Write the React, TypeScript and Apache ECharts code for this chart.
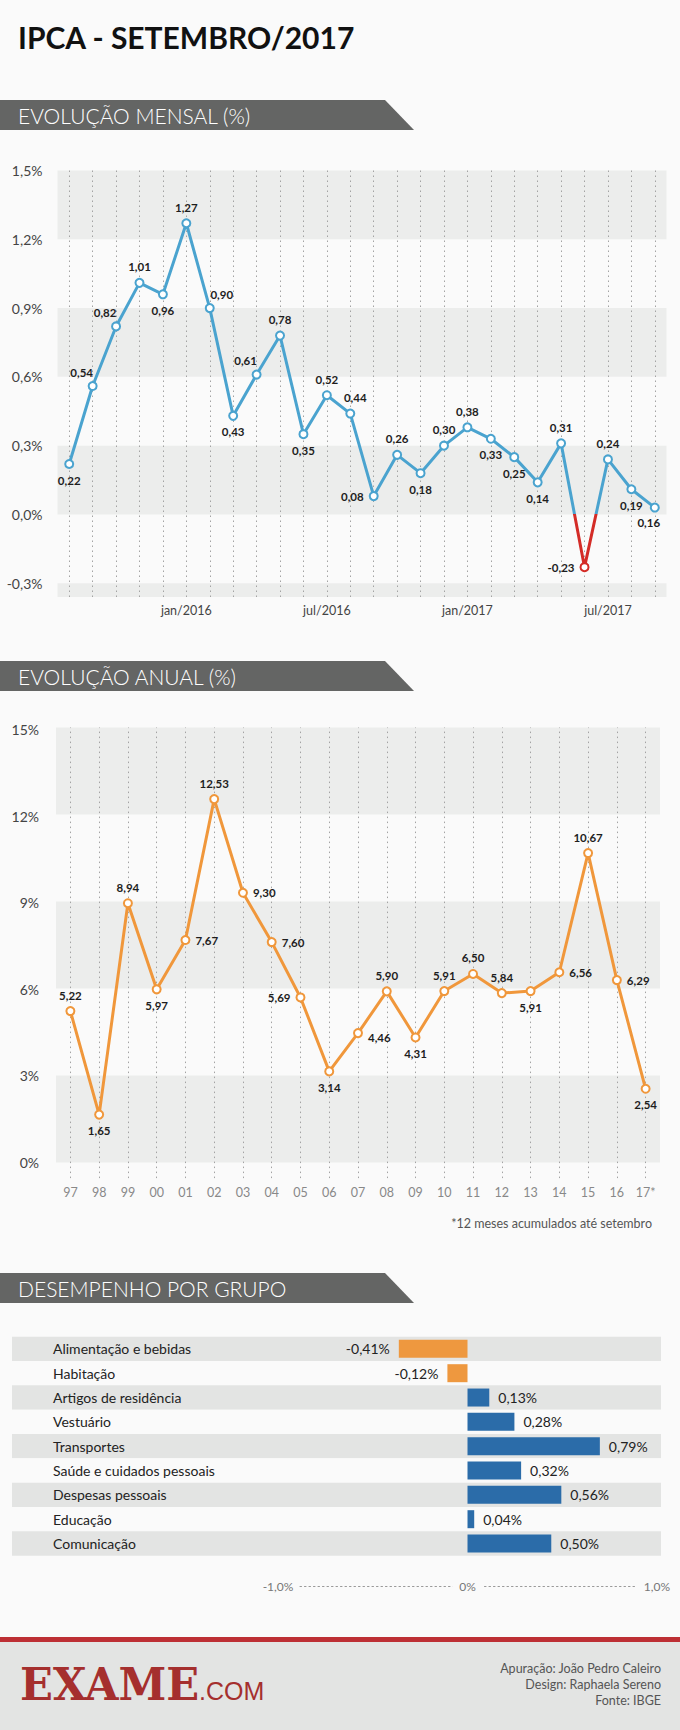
import React, { useEffect, useRef } from 'react';
import * as echarts from 'echarts';

// ---------- DATA ----------
const monthCategories = [
  'ago/2015', 'set/2015', 'out/2015', 'nov/2015', 'dez/2015',
  'jan/2016', 'fev/2016', 'mar/2016', 'abr/2016', 'mai/2016', 'jun/2016',
  'jul/2016', 'ago/2016', 'set/2016', 'out/2016', 'nov/2016', 'dez/2016',
  'jan/2017', 'fev/2017', 'mar/2017', 'abr/2017', 'mai/2017', 'jun/2017',
  'jul/2017', 'ago/2017', 'set/2017',
];
// values printed next to each point
const monthlyValues = [
  0.22, 0.54, 0.82, 1.01, 0.96, 1.27, 0.9, 0.43, 0.61, 0.78, 0.35, 0.52, 0.44,
  0.08, 0.26, 0.18, 0.3, 0.38, 0.33, 0.25, 0.14, 0.31, -0.23, 0.24, 0.19, 0.16,
];
// heights at which the points are drawn in the picture
const monthlyPlotted = [
  0.22, 0.56, 0.82, 1.01, 0.96, 1.27, 0.9, 0.43, 0.61, 0.78, 0.35, 0.52, 0.44,
  0.08, 0.26, 0.18, 0.3, 0.38, 0.33, 0.25, 0.14, 0.31, -0.23, 0.24, 0.11, 0.03,
];
const monthlyTicks = [-0.3, 0, 0.3, 0.6, 0.9, 1.2, 1.5];
const monthlyLabelSides = [
  'bottom', 'topLeft', 'topLeft', 'top', 'bottom', 'top', 'topRight', 'bottom',
  'topLeft', 'top', 'bottom', 'top', 'topRightSmall', 'left', 'top', 'bottom',
  'top', 'top', 'bottom', 'bottom', 'bottom', 'top', 'left', 'top', 'bottom',
  'bottomLeft',
];

const yearCategories = [
  '97', '98', '99', '00', '01', '02', '03', '04', '05', '06', '07', '08', '09',
  '10', '11', '12', '13', '14', '15', '16', '17*',
];
const annualValues = [
  5.22, 1.65, 8.94, 5.97, 7.67, 12.53, 9.3, 7.6, 5.69, 3.14, 4.46, 5.9, 4.31,
  5.91, 6.5, 5.84, 5.91, 6.56, 10.67, 6.29, 2.54,
];
const annualTicks = [0, 3, 6, 9, 12, 15];
const annualLabelSides = [
  'top', 'bottom', 'top', 'bottom', 'right', 'top', 'right', 'right', 'left',
  'bottom', 'rightLow', 'top', 'bottom', 'top', 'top', 'top', 'bottom', 'right',
  'top', 'right', 'bottom',
];

const groupNames = [
  'Alimentação e bebidas', 'Habitação', 'Artigos de residência', 'Vestuário',
  'Transportes', 'Saúde e cuidados pessoais', 'Despesas pessoais', 'Educação',
  'Comunicação',
];
const groupValues = [-0.41, -0.12, 0.13, 0.28, 0.79, 0.32, 0.56, 0.04, 0.5];
const groupAxisTicks = [-1, 0, 1];

// ---------- STYLE ----------
const BG = '#fafafa';
const BAND = '#ecedec';
const BANNER = '#646564';
const BLUE = '#4aa3cf';
const RED = '#d42c27';
const ORANGE = '#f0973b';
const BAR_NEG = '#ee983f';
const BAR_POS = '#2b6ca9';
const FONT = 'Lato';

const clean = (v: number) => (Math.abs(v) < 1e-9 ? 0 : v);
const comma = (v: number, d: number) => clean(v).toFixed(d).replace('.', ',');

function placement(p: string) {
  switch (p) {
    case 'topLeft':
      return { position: 'top', offset: [-11, 2] };
    case 'topRight':
      return { position: 'top', offset: [12, 2] };
    case 'topRightSmall':
      return { position: 'top', offset: [5, 0] };
    case 'bottomLeft':
      return { position: 'bottom', offset: [-6, -1] };
    case 'rightLow':
      return { position: 'right', offset: [0, 4] };
    default:
      return { position: p };
  }
}

function bands(ticks: number[], min: number) {
  const desc = [...ticks].sort((a, b) => b - a);
  const out: any[] = [];
  for (let k = 0; k < desc.length; k++) {
    const hi = desc[k];
    const lo = k + 1 < desc.length ? desc[k + 1] : min;
    if (k % 2 === 0 && lo < hi) out.push([{ yAxis: lo }, { yAxis: hi }]);
  }
  return out;
}

function helperSeries(values: number[], cats: string[], ticks: number[], min: number, axis: number) {
  return {
    type: 'line',
    xAxisIndex: axis,
    yAxisIndex: axis,
    data: values,
    showSymbol: false,
    symbol: 'none',
    lineStyle: { opacity: 0 },
    silent: true,
    z: 1,
    markArea: {
      silent: true,
      itemStyle: { color: BAND },
      data: bands(ticks, min),
    },
    markLine: {
      silent: true,
      symbol: ['none', 'none'],
      label: { show: false },
      lineStyle: { type: [1.5, 3.5], color: '#a3a3a3', width: 1 },
      data: cats.map((_, i) => ({ xAxis: i })),
    },
  };
}

function lineData(plotted: number[], printed: number[], sides: string[]) {
  return plotted.map((v, i) => ({
    value: v,
    printed: printed[i],
    label: placement(sides[i]),
  }));
}

const MONTH_MIN = -0.36;
const YEAR_MIN = -0.54;

function bannerElems(y: number, text: string) {
  return [
    {
      type: 'polygon',
      shape: { points: [[0, y], [385, y], [414, y + 30], [0, y + 30]] },
      style: { fill: BANNER },
    },
    {
      type: 'text',
      x: 18,
      y: y + 15.5,
      style: {
        text,
        fill: '#ffffff',
        font: `300 21px ${FONT}`,
        textAlign: 'left',
        textVerticalAlign: 'middle',
      },
    },
  ];
}

function labelAxis(grid: number, ticks: number[], fmt: (v: number) => string, margin: number) {
  return {
    type: 'value',
    gridIndex: grid,
    min: ticks[0],
    max: ticks[ticks.length - 1],
    interval: ticks[1] - ticks[0],
    axisLine: { show: false },
    axisTick: { show: false },
    splitLine: { show: false },
    axisLabel: { formatter: fmt, color: '#444', fontSize: 14, margin },
  };
}

const pointLabel = {
  show: true,
  formatter: (p: any) => comma(p.data.printed, 2),
  color: '#1e1e1e',
  fontWeight: 'bold',
  fontSize: 11.5,
};

function buildOption() {
  const monthPx = 426.5 / (monthlyTicks[monthlyTicks.length - 1] - MONTH_MIN);
  const yearPx = 448.6 / (annualTicks[annualTicks.length - 1] - YEAR_MIN);
  return {
    animation: false,
    backgroundColor: BG,
    textStyle: { fontFamily: FONT },
    graphic: {
      elements: [
        {
          type: 'text',
          x: 18,
          y: 37,
          style: {
            text: 'IPCA - SETEMBRO/2017',
            fill: '#111',
            font: `bold 30px ${FONT}`,
            textAlign: 'left',
            textVerticalAlign: 'middle',
          },
        },
        ...bannerElems(100, 'EVOLUÇÃO MENSAL (%)'),
        ...bannerElems(661, 'EVOLUÇÃO ANUAL (%)'),
        ...bannerElems(1273, 'DESEMPENHO POR GRUPO'),
        {
          type: 'text',
          x: 652,
          y: 1223,
          style: {
            text: '*12 meses acumulados até setembro',
            fill: '#555',
            font: `12.5px ${FONT}`,
            textAlign: 'right',
            textVerticalAlign: 'middle',
          },
        },
        { type: 'rect', shape: { x: 0, y: 1637, width: 680, height: 5 }, style: { fill: '#bd2f34' } },
        { type: 'rect', shape: { x: 0, y: 1642, width: 680, height: 88 }, style: { fill: '#e3e4e3' } },
        {
          type: 'text',
          x: 20,
          y: 1684,
          scaleX: 0.96,
          style: {
            text: 'EXAME',
            fill: '#a52f2e',
            font: `bold 45px "DejaVu Serif"`,
            textAlign: 'left',
            textVerticalAlign: 'middle',
          },
        },
        {
          type: 'text',
          x: 199,
          y: 1691,
          scaleX: 1.0,
          style: {
            text: '.COM',
            fill: '#a52f2e',
            font: `25px "Liberation Sans"`,
            textAlign: 'left',
            textVerticalAlign: 'middle',
          },
        },
        {
          type: 'text',
          x: 661,
          y: 1668,
          style: { text: 'Apuração: João Pedro Caleiro', fill: '#555', font: `12.5px ${FONT}`, textAlign: 'right', textVerticalAlign: 'middle' },
        },
        {
          type: 'text',
          x: 661,
          y: 1684,
          style: { text: 'Design: Raphaela Sereno', fill: '#555', font: `12.5px ${FONT}`, textAlign: 'right', textVerticalAlign: 'middle' },
        },
        {
          type: 'text',
          x: 661,
          y: 1700,
          style: { text: 'Fonte: IBGE', fill: '#555', font: `12.5px ${FONT}`, textAlign: 'right', textVerticalAlign: 'middle' },
        },
      ],
    },
    grid: [
      { left: 57.5, right: 13.5, top: 170.5, height: 426.5 },
      { left: 56, right: 20, top: 727.5, height: 450.6 },
      { left: 12, right: 19, top: 1336.7, height: 219 },
      { left: 300, right: 45, top: 1576, height: 10 },
      {
        left: 57.5,
        right: 13.5,
        top: 170.5,
        height: monthPx * (monthlyTicks[monthlyTicks.length - 1] - monthlyTicks[0]),
      },
      {
        left: 56,
        right: 20,
        top: 729.5,
        height: yearPx * (annualTicks[annualTicks.length - 1] - annualTicks[0]),
      },
    ],
    xAxis: [
      {
        type: 'category',
        gridIndex: 0,
        data: monthCategories,
        boundaryGap: true,
        axisLine: { show: false },
        axisTick: { show: false },
        splitLine: { show: false },
        axisLabel: {
          interval: (_i: number, v: string) => /^(jan|jul)/.test(v),
          color: '#444',
          fontSize: 12.5,
          margin: 7,
        },
      },
      {
        type: 'category',
        gridIndex: 1,
        data: yearCategories,
        boundaryGap: true,
        axisLine: { show: false },
        axisTick: { show: false },
        splitLine: { show: false },
        axisLabel: { interval: 0, color: '#888', fontSize: 12.5, margin: 8 },
      },
      {
        type: 'value',
        gridIndex: 2,
        min: -2.719,
        max: 1.155,
        show: false,
      },
      {
        type: 'value',
        gridIndex: 3,
        min: groupAxisTicks[0],
        max: groupAxisTicks[groupAxisTicks.length - 1],
        interval: 1,
        position: 'bottom',
        axisLine: { show: true, onZero: false, lineStyle: { type: [1.5, 3], color: '#999', width: 1 } },
        axisTick: { show: false },
        splitLine: { show: false },
        axisLabel: {
          margin: 0,
          verticalAlign: 'middle',
          color: '#777',
          fontSize: 12,
          formatter: (v: number) =>
            v === 0 ? '{z|0%}' : v < 0 ? '{l|' + comma(v, 1) + '%}' : '{r|' + comma(v, 1) + '%}',
          rich: {
            z: { backgroundColor: BG, padding: [2, 7, 2, 7], color: '#777', fontSize: 12 },
            l: { padding: [0, 44, 0, 0], color: '#777', fontSize: 12 },
            r: { padding: [0, 0, 0, 44], color: '#777', fontSize: 12 },
          },
        },
      },
      { type: 'value', gridIndex: 4, show: false, min: 0, max: 1 },
      { type: 'value', gridIndex: 5, show: false, min: 0, max: 1 },
    ],
    yAxis: [
      {
        type: 'value',
        gridIndex: 0,
        min: MONTH_MIN,
        max: monthlyTicks[monthlyTicks.length - 1],
        axisLine: { show: false },
        axisTick: { show: false },
        splitLine: { show: false },
        axisLabel: { show: false },
      },
      {
        type: 'value',
        gridIndex: 1,
        min: YEAR_MIN,
        max: annualTicks[annualTicks.length - 1],
        axisLine: { show: false },
        axisTick: { show: false },
        splitLine: { show: false },
        axisLabel: { show: false },
      },
      {
        type: 'category',
        gridIndex: 2,
        data: groupNames,
        inverse: true,
        axisLine: { show: false, onZero: false },
        axisTick: { show: false },
        axisLabel: {
          inside: true,
          margin: 41,
          align: 'left',
          color: '#222',
          fontSize: 14,
          interval: 0,
        },
        splitLine: { show: false },
        splitArea: { show: true, interval: 0, areaStyle: { color: ['#e3e4e3', BG] } },
      },
      { type: 'value', gridIndex: 3, min: 0, max: 1, show: false },
      labelAxis(4, monthlyTicks, (v) => comma(v, 1) + '%', 15),
      labelAxis(5, annualTicks, (v) => clean(v) + '%', 17),
    ],
    visualMap: {
      type: 'piecewise',
      show: false,
      seriesIndex: 1,
      dimension: 1,
      pieces: [
        { gte: -5, lt: 0, color: RED },
        { gte: 0, lte: 5, color: BLUE },
      ],
    },
    series: [
      helperSeries(monthlyPlotted, monthCategories, monthlyTicks, MONTH_MIN, 0),
      {
        type: 'line',
        xAxisIndex: 0,
        yAxisIndex: 0,
        z: 10,
        data: lineData(monthlyPlotted, monthlyValues, monthlyLabelSides),
        symbol: 'emptyCircle',
        symbolSize: 8,
        itemStyle: { borderWidth: 2 },
        lineStyle: { width: 3 },
        label: pointLabel,
      },
      helperSeries(annualValues, yearCategories, annualTicks, YEAR_MIN, 1),
      {
        type: 'line',
        xAxisIndex: 1,
        yAxisIndex: 1,
        z: 10,
        data: lineData(annualValues, annualValues, annualLabelSides),
        symbol: 'emptyCircle',
        symbolSize: 8,
        itemStyle: { color: ORANGE, borderWidth: 2 },
        lineStyle: { width: 3, color: ORANGE },
        label: pointLabel,
      },
      {
        type: 'bar',
        xAxisIndex: 2,
        yAxisIndex: 2,
        barWidth: 18,
        z: 5,
        data: groupValues.map((v) => ({
          value: v,
          itemStyle: { color: v < 0 ? BAR_NEG : BAR_POS },
          label: { position: v < 0 ? 'left' : 'right' },
        })),
        label: {
          show: true,
          distance: 9,
          color: '#222',
          fontSize: 14,
          formatter: (p: any) => comma(p.value, 2) + '%',
        },
      },
    ],
  };
}

export default function App() {
  const ref = useRef<HTMLDivElement>(null);
  useEffect(() => {
    if (!ref.current) return;
    const chart = echarts.init(ref.current, null, { renderer: 'svg' });
    chart.setOption(buildOption() as any);
    return () => chart.dispose();
  }, []);
  return (
    <div
      ref={ref}
      style={{ position: 'absolute', left: 0, top: 0, width: 680, height: 1730, background: BG }}
    />
  );
}
